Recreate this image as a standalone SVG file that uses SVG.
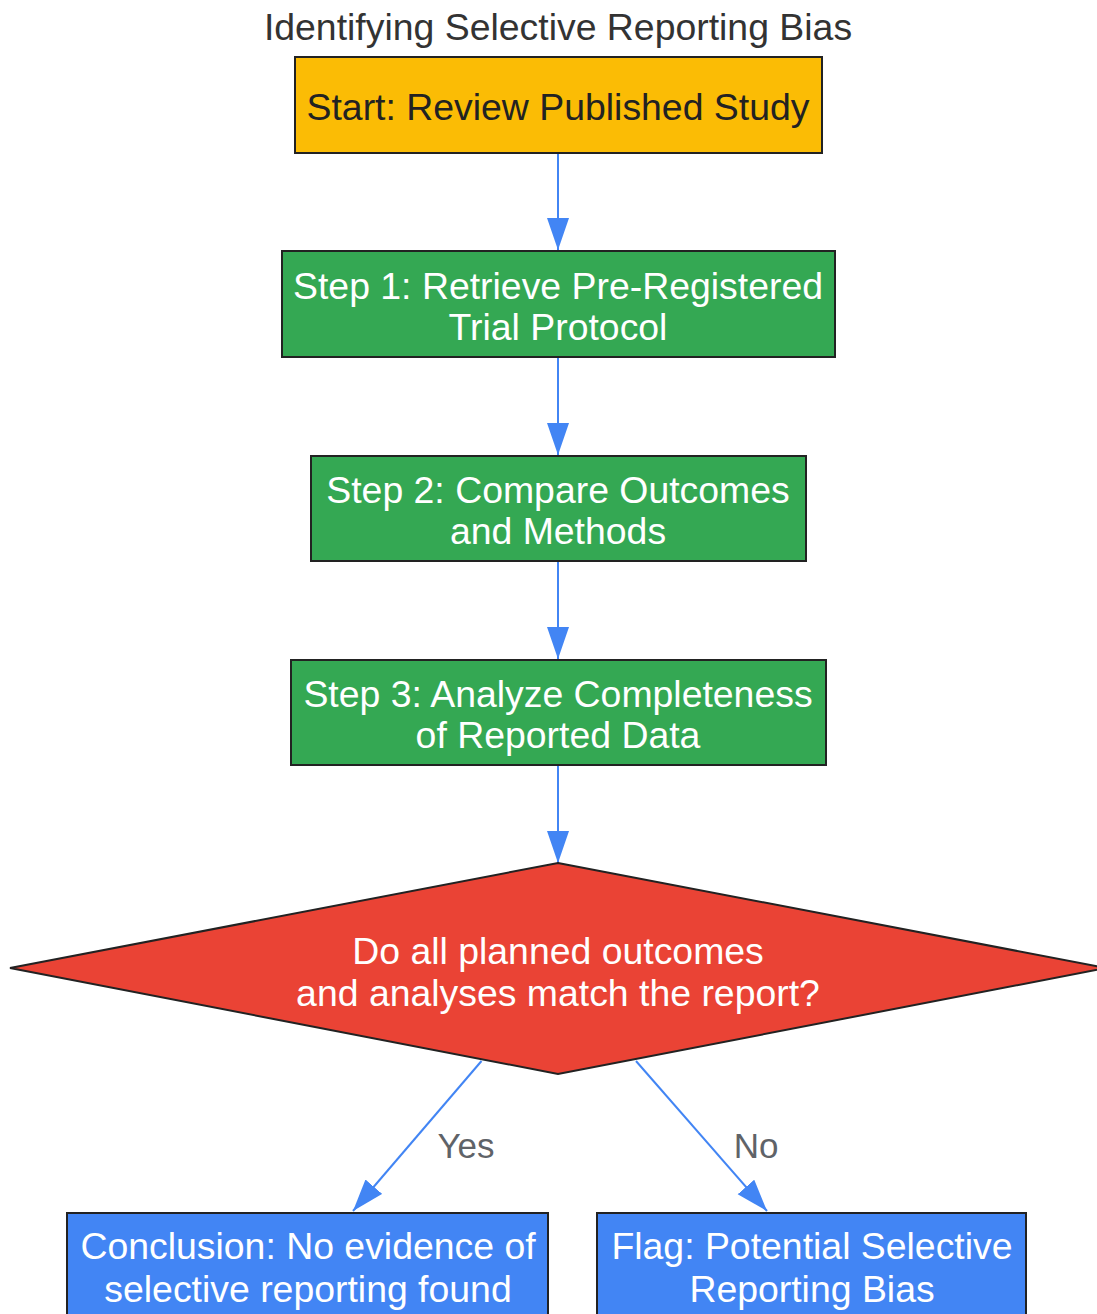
<svg xmlns="http://www.w3.org/2000/svg" width="1097" height="1314" viewBox="0 0 1097 1314">
<style>
text{font-family:"Liberation Sans",Arial,sans-serif;text-anchor:middle;dominant-baseline:central}
.t{font-size:37.4px;fill:#333}
.n{font-size:37.4px;fill:#fff}
.d{font-size:37.4px;fill:#222}
.box{stroke:#222;stroke-width:2}
.e{stroke:#4285F4;stroke-width:2;fill:none;marker-end:url(#ah)}
.lbl{font-size:35px;fill:#5f6368}
</style>
<defs>
<marker id="ah" markerUnits="userSpaceOnUse" markerWidth="34" markerHeight="24" refX="32" refY="11" orient="auto">
<path d="M0,0 L32,11 L0,22 Z" fill="#4285F4"/>
</marker>
</defs>
<rect width="1097" height="1314" fill="#fff"/>
<text class="t" x="558" y="27">Identifying Selective Reporting Bias</text>
<g id="connectors">
<line class="e" x1="558" y1="153" x2="558" y2="250"/>
<line class="e" x1="558" y1="357" x2="558" y2="455"/>
<line class="e" x1="558" y1="561" x2="558" y2="659"/>
<line class="e" x1="558" y1="765" x2="558" y2="863"/>
<line class="e" x1="481.5" y1="1061" x2="353" y2="1211"/>
<line class="e" x1="636" y1="1061" x2="767" y2="1211"/>
<text class="lbl" x="466" y="1145">Yes</text>
<text class="lbl" x="756" y="1145">No</text>
</g>
<g id="start">
<rect class="box" x="295" y="57" width="527" height="96" fill="#FBBC05"/>
<text class="d" x="558" y="107">Start: Review Published Study</text>
</g>
<g id="step1">
<rect class="box" x="282" y="251" width="553" height="106" fill="#34A853"/>
<text class="n" x="558" y="286">Step 1: Retrieve Pre-Registered</text>
<text class="n" x="558" y="327">Trial Protocol</text>
</g>
<g id="step2">
<rect class="box" x="311" y="456" width="495" height="105" fill="#34A853"/>
<text class="n" x="558" y="490">Step 2: Compare Outcomes</text>
<text class="n" x="558" y="531">and Methods</text>
</g>
<g id="step3">
<rect class="box" x="291" y="660" width="535" height="105" fill="#34A853"/>
<text class="n" x="558" y="694">Step 3: Analyze Completeness</text>
<text class="n" x="558" y="735">of Reported Data</text>
</g>
<g id="decision">
<polygon class="box" points="558,863 1106,968 558,1074 10,968" fill="#EA4335"/>
<text class="n" x="558" y="951">Do all planned outcomes</text>
<text class="n" x="558" y="993">and analyses match the report?</text>
</g>
<g id="conclusion">
<rect class="box" x="67" y="1213" width="481" height="120" fill="#4285F4"/>
<text class="n" x="308" y="1246">Conclusion: No evidence of</text>
<text class="n" x="308" y="1289">selective reporting found</text>
</g>
<g id="flag">
<rect class="box" x="597" y="1213" width="429" height="120" fill="#4285F4"/>
<text class="n" x="812" y="1246">Flag: Potential Selective</text>
<text class="n" x="812" y="1289">Reporting Bias</text>
</g>
</svg>
